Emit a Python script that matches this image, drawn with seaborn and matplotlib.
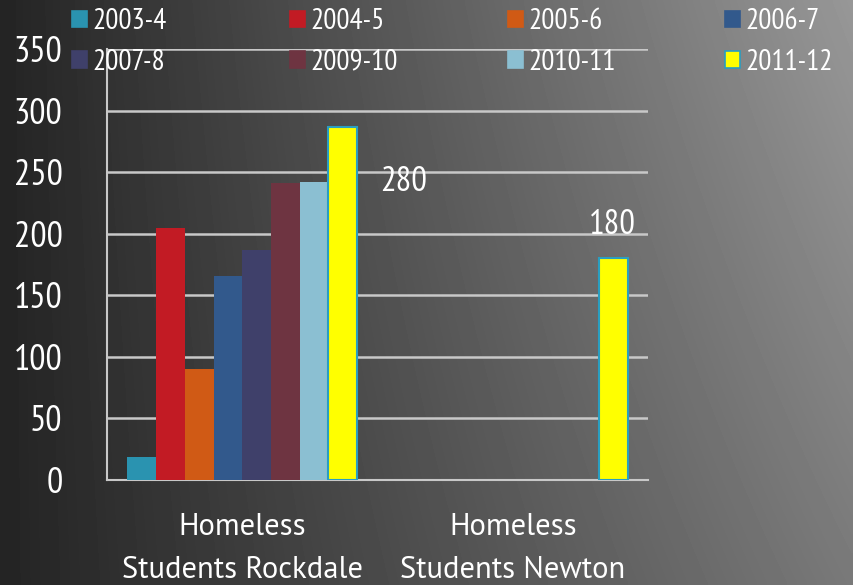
import numpy as np
import pandas as pd
import matplotlib
matplotlib.use("Agg")
import matplotlib.pyplot as plt
import seaborn as sns
from matplotlib.patches import Patch

# ---------------- data ----------------
categories = ["Homeless\nStudents Rockdale", "Homeless\nStudents Newton"]
years = ["2003-4", "2004-5", "2005-6", "2006-7", "2007-8", "2009-10", "2010-11", "2011-12"]
rockdale = [19, 205, 90, 166, 187, 241, 242, 287]
newton = [np.nan, np.nan, np.nan, np.nan, np.nan, np.nan, np.nan, 180]
colors = ["#2a93b0", "#c21b24", "#d05a15", "#32598c", "#3f406a", "#6e3441", "#8bbfd2", "#ffff00"]
label_texts = ["280", "180"]
y_ticks = [0, 50, 100, 150, 200, 250, 300, 350]

rows = []
for y, r, n in zip(years, rockdale, newton):
    rows.append({"cat": categories[0], "year": y, "val": r})
    rows.append({"cat": categories[1], "year": y, "val": n})
df = pd.DataFrame(rows).dropna()

sns.set_theme(style="white")
NUM_FONT = ["PT Sans Narrow", "DejaVu Sans"]
TXT_FONT = ["PT Sans", "DejaVu Sans"]
plt.rcParams["font.family"] = NUM_FONT

W, H = 854, 585
fig = plt.figure(figsize=(W / 100, H / 100), dpi=100)

# gradient background
nx, ny = 200, 140
xs = np.linspace(0, 1, nx)[None, :]
ys = np.linspace(0, 1, ny)[:, None]  # 0 top, 1 bottom
grad = 36 + 100 * xs + 30 * (0.5 - ys) * xs
bg = fig.add_axes([0, 0, 1, 1])
bg.imshow(grad, extent=[0, 1, 0, 1], aspect="auto", cmap="gray", vmin=0, vmax=255,
          interpolation="bilinear")
bg.axis("off")
bg.set_zorder(-10)

L, R, T, B = 107, 648, 49, 480
ax = fig.add_axes([L / W, 1 - B / H, (R - L) / W, (B - T) / H])
ax.patch.set_alpha(0)

sns.barplot(data=df, x="cat", y="val", hue="year", order=categories, hue_order=years,
            palette=colors, width=0.85, dodge=True, saturation=1, legend=False,
            edgecolor="none", linewidth=0, ax=ax, zorder=3)

# edge on 2011-12 bars
last = ax.containers[-1]
for p in last:
    p.set_edgecolor("#2a9ec0")
    p.set_linewidth(1.5)

ax.set_xlim(-0.5, 1.5)
ax.set_ylim(0, 350)
ax.set_yticks(y_ticks)
ax.set_xticks([0, 1])
ax.set_xticklabels(categories, family=TXT_FONT, fontsize=22, color="white", linespacing=1.65)
ax.set_xticks([-0.5, 0.5, 1.5], minor=True)
ax.tick_params(axis="x", which="major", length=0, pad=24)
ax.tick_params(axis="x", which="minor", length=8, width=1.5, color="#c8c8c8", direction="out")
ax.tick_params(axis="y", length=8, width=1.5, color="#c8c8c8", direction="out",
               labelsize=26, labelcolor="white", pad=24)
ax.set_xlabel("")
ax.set_ylabel("")
ax.grid(axis="y", color="#c8c8c8", linewidth=1.8, zorder=1)
ax.set_axisbelow(True)
for s in ["top", "right"]:
    ax.spines[s].set_visible(False)
for s in ["left", "bottom"]:
    ax.spines[s].set_color("#c8c8c8")
    ax.spines[s].set_linewidth(1.5)

# data labels
offsets = [(44, -40), (-1, 24)]
for p, txt, off in zip(last, label_texts, offsets):
    cx = p.get_x() + p.get_width() / 2
    top = p.get_height()
    ax.annotate(txt, xy=(cx, top), xytext=off, textcoords="offset points",
                ha="center", va="center", color="white", fontsize=25)

# legend: 4 columns, 2 rows
col_x = [72, 290, 508, 725]
for c in range(4):
    hs, ls = [], []
    for r in range(2):
        i = r * 4 + c
        ec = "#2a9ec0" if years[i] == "2011-12" else colors[i]
        hs.append(Patch(facecolor=colors[i], edgecolor=ec, linewidth=1.2))
        ls.append(years[i])
    fig.legend(hs, ls, loc="upper left", bbox_to_anchor=((col_x[c] - 20) / W, 1 + 12 / H),
               frameon=False, fontsize=21, handlelength=0.5, handleheight=0.5,
               handletextpad=0.2, labelspacing=0.45, borderpad=0.2, labelcolor="white")

fig.savefig("out.png", dpi=100)
